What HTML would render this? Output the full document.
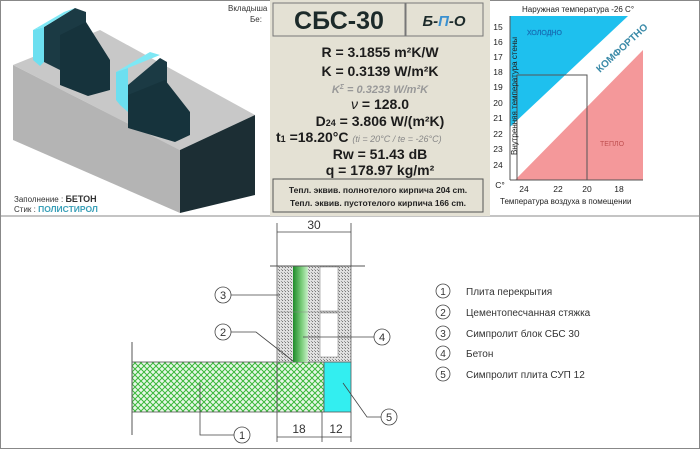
<!DOCTYPE html><html><head><meta charset="utf-8"><style>
body{margin:0;width:700px;height:449px;background:#fff;overflow:hidden;font-family:"Liberation Sans",sans-serif}
svg{position:absolute;left:0;top:0}
</style></head><body>
<svg width="700" height="449" viewBox="0 0 700 449" font-family="Liberation Sans, sans-serif">
<defs>
<pattern id="h" width="6" height="6" patternUnits="userSpaceOnUse"><rect width="6" height="6" fill="#e8f7e8"/><path d="M0 0L6 6M6 0L0 6" stroke="#3ab83a" stroke-width="1"/></pattern>
<pattern id="d" width="3" height="3" patternUnits="userSpaceOnUse"><rect width="3" height="3" fill="#e0e0e0"/><rect x="0" y="0" width="1" height="1" fill="#777"/><rect x="2" y="2" width="1" height="1" fill="#999"/></pattern>
<linearGradient id="g" x1="0" x2="1"><stop offset="0" stop-color="#1e8a2a"/><stop offset=".6" stop-color="#7fd07f"/><stop offset="1" stop-color="#c8eec8"/></linearGradient>
</defs>
<rect x="0.5" y="0.5" width="699" height="448" fill="#fff" stroke="#888"/>
<line x1="0" y1="216" x2="700" y2="216" stroke="#888"/>
<!-- block -->
<polygon points="13,65 100,30 255,115 180,150" fill="#c8c8c8"/>
<polygon points="13,65 180,150 180,213 13,140" fill="#b4b4b4"/>
<polygon points="180,150 255,115 255,195 180,213" fill="#1c2e34"/>
<polygon points="44,27 75,8 86,12 86,60 60,70 44,62" fill="#1b3a44"/>
<polygon points="33,30 44,27 44,62 40,66 33,60" fill="#6cdff0"/>
<polygon points="33,30 64,12 75,8 44,27" fill="#7ee8f5"/>
<polygon points="60,35 86,22 110,60 110,90 88,96 60,85" fill="#16333c"/>
<polygon points="128,85 160,58 167,62 167,110 140,122 128,112" fill="#1b3a44"/>
<polygon points="116,72 128,68 128,112 120,105 116,100" fill="#6cdff0"/>
<polygon points="116,72 150,52 160,55 128,68" fill="#7ee8f5"/>
<polygon points="128,95 165,80 190,112 190,135 175,142 128,128" fill="#16333c"/>
<text x="228" y="11" font-size="8" fill="#333">Вкладыша</text>
<text x="250" y="22" font-size="8" fill="#333">Бе:</text>
<text x="14" y="202" font-size="8" fill="#333">Заполнение : <tspan font-weight="bold" font-size="9">БЕТОН</tspan></text>
<text x="14" y="212" font-size="8" fill="#333">Стик : <tspan font-weight="bold" fill="#3aa0b8" font-size="8.5">ПОЛИСТИРОЛ</tspan></text>
<!-- middle panel -->
<rect x="270" y="0" width="220" height="216" fill="#e4e1d4"/>
<rect x="273" y="3" width="132" height="33" fill="none" stroke="#777"/>
<rect x="406" y="3" width="77" height="33" fill="none" stroke="#777"/>
<text x="339" y="29" font-size="25" font-weight="bold" text-anchor="middle" fill="#1c2a2a">СБС-30</text>
<text x="444" y="26" font-size="15" font-weight="bold" font-style="italic" text-anchor="middle" fill="#1c2a2a">Б-<tspan fill="#3a90d0">П</tspan>-О</text>
<g font-weight="bold" text-anchor="middle" fill="#1c1c1c" font-size="14">
<text x="380" y="57">R = 3.1855 m²K/W</text>
<text x="380" y="76">K = 0.3139 W/m²K</text>
<text x="380" y="93" font-size="11" font-style="italic" fill="#999">K<tspan font-size="7" dy="-4">Σ</tspan><tspan dy="4"> = 0.3233 W/m²K</tspan></text>
<text x="380" y="109"><tspan font-style="italic" font-weight="normal">ν</tspan> =  128.0</text>
<text x="380" y="126">D<tspan font-size="9">24</tspan> = 3.806 W/(m²K)</text>
<text x="276" y="142" text-anchor="start">t<tspan font-size="9">1</tspan> =18.20°C <tspan font-size="9" font-style="italic" font-weight="normal" fill="#888">(ti = 20°C / te = -26°C)</tspan></text>
<text x="380" y="159">Rw = 51.43 dB</text>
<text x="380" y="175">q = 178.97 kg/m²</text>
</g>
<rect x="273" y="179" width="210" height="33" fill="none" stroke="#555"/>
<text x="378" y="193" font-size="8.5" font-weight="bold" text-anchor="middle" fill="#222">Тепл. эквив. полнотелого кирпича 204 cm.</text>
<text x="378" y="206" font-size="8.5" font-weight="bold" text-anchor="middle" fill="#222">Тепл. эквив. пустотелого кирпича 166 cm.</text>
<!-- chart -->
<rect x="510" y="16" width="133" height="164" fill="#fff"/>
<polygon points="510,16 628,16 510,127" fill="#1ec0ee"/>
<polygon points="643,50 643,180 515,180" fill="#f4989a"/>
<rect x="517" y="75" width="70" height="105" fill="none" stroke="#555"/>
<line x1="510" y1="16" x2="510" y2="180" stroke="#555"/>
<line x1="510" y1="180" x2="643" y2="180" stroke="#555"/>
<text x="522" y="12" font-size="8" fill="#222">Наружная температура -26 C°</text>
<text x="600" y="73" font-size="10" font-weight="bold" fill="#3a8aa8" transform="rotate(-43 600 73)">КОМФОРТНО</text>
<text x="527" y="35" font-size="7" fill="#1a8ab8" stroke="#14a" stroke-width=".2">ХОЛОДНО</text>
<text x="600" y="146" font-size="7" fill="#c05050">ТЕПЛО</text>
<text x="517" y="155" font-size="8" fill="#222" transform="rotate(-90 517 155)">Внутренняя температура стены</text>
<g font-size="8.5" fill="#222" text-anchor="middle">
<text x="498" y="30">15</text><text x="498" y="45">16</text><text x="498" y="60">17</text><text x="498" y="75">18</text><text x="498" y="90">19</text><text x="498" y="106">20</text><text x="498" y="121">21</text><text x="498" y="137">22</text><text x="498" y="152">23</text><text x="498" y="168">24</text>
<text x="500" y="188">C°</text><text x="524" y="192">24</text><text x="558" y="192">22</text><text x="587" y="192">20</text><text x="619" y="192">18</text>
</g>
<text x="500" y="204" font-size="8" fill="#222">Температура воздуха в помещении</text>
<!-- bottom drawing -->
<rect x="132" y="362" width="192" height="50" fill="url(#h)" stroke="#555" stroke-width=".8"/>
<line x1="277" y1="362" x2="277" y2="412" stroke="#555"/>
<rect x="324" y="362" width="27" height="50" fill="#33eef0" stroke="#555" stroke-width=".8"/>
<rect x="277" y="266" width="74" height="96" fill="url(#d)" stroke="#666" stroke-width=".8"/>
<rect x="293" y="266" width="15" height="96" fill="url(#g)"/>
<rect x="320" y="267" width="18" height="44" fill="#fff" stroke="#888" stroke-width=".6"/>
<rect x="320" y="313" width="18" height="44" fill="#fff" stroke="#888" stroke-width=".6"/>
<line x1="277" y1="312" x2="351" y2="312" stroke="#888" stroke-width=".6"/>
<line x1="270" y1="266" x2="365" y2="266" stroke="#555"/>
<line x1="132" y1="342" x2="132" y2="435" stroke="#555"/>
<g stroke="#444" stroke-width=".8" fill="none">
<line x1="277" y1="223" x2="277" y2="266"/><line x1="351" y1="223" x2="351" y2="266"/>
<line x1="277" y1="232" x2="351" y2="232"/>
<line x1="277" y1="412" x2="277" y2="442"/><line x1="322" y1="412" x2="322" y2="442"/><line x1="351" y1="412" x2="351" y2="442"/>
<line x1="277" y1="437" x2="351" y2="437"/>
<circle cx="223" cy="295" r="8"/><line x1="231" y1="295" x2="280" y2="295"/>
<circle cx="223" cy="332" r="8"/><polyline points="231,332 256,332 293,361"/>
<circle cx="382" cy="337" r="8"/><line x1="374" y1="337" x2="303" y2="337"/>
<circle cx="389" cy="417" r="8"/><polyline points="381,417 367,417 343,383"/>
<circle cx="242" cy="435" r="8"/><polyline points="234,435 200,435 200,383"/>
</g>
<g font-size="11" text-anchor="middle" fill="#333">
<text x="223" y="299">3</text><text x="223" y="336">2</text><text x="382" y="341">4</text><text x="389" y="421">5</text><text x="242" y="439">1</text>
<text x="314" y="229" font-size="12">30</text><text x="299" y="433" font-size="12">18</text><text x="336" y="433" font-size="12">12</text>
</g>
<g stroke="#444" fill="none" stroke-width=".8">
<circle cx="443" cy="291" r="7"/><circle cx="443" cy="312" r="7"/><circle cx="443" cy="333" r="7"/><circle cx="443" cy="353" r="7"/><circle cx="443" cy="374" r="7"/>
</g>
<g font-size="10" fill="#333">
<g text-anchor="middle"><text x="443" y="295">1</text><text x="443" y="316">2</text><text x="443" y="337">3</text><text x="443" y="357">4</text><text x="443" y="378">5</text></g>
<text x="466" y="295">Плита перекрытия</text>
<text x="466" y="316">Цементопесчанная стяжка</text>
<text x="466" y="337">Симпролит блок СБС 30</text>
<text x="466" y="357">Бетон</text>
<text x="466" y="378">Симпролит плита СУП 12</text>
</g>
</svg>
</body></html>
